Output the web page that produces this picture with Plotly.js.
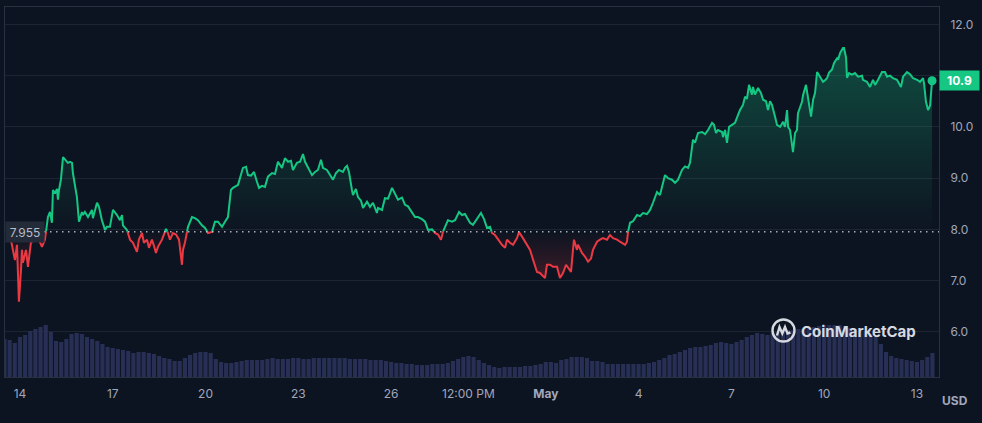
<!DOCTYPE html>
<html>
<head>
<meta charset="utf-8">
<script src="https://cdn.plot.ly/plotly-3.0.1.min.js"></script>
<style>html,body{margin:0;padding:0;background:#0d1421;}#chart{width:982px;height:423px;}</style>
</head>
<body>
<div id="chart"></div>
<script>
// ---- DATA ----
// price: hours after 2024-04-14 00:00 and price in USD
const hours = [-9.3,-7.8,-5.4,-3.9,-2.3,-0.8,0.8,1.6,2.3,3.9,4.7,6.2,8.5,10.9,13.2,15.5,17.1,19.4,20.2,21.7,23.3,24.8,25.6,27.2,28.7,29.5,30.3,31.8,33.4,34.9,37.2,38.8,40.4,41.1,42.7,44.2,45.8,48.1,48.9,50.4,52.8,55.9,56.6,58.2,59.8,61.3,63.6,66.0,67.5,69.8,72.2,75.3,77.6,79.2,79.9,83.0,85.4,
87.7,90.8,92.3,94.7,96.2,98.6,100.1,102.4,104.0,105.5,107.1,110.2,111.7,113.3,114.8,116.4,118.7,121.1,123.4,125.7,126.5,128.0,129.6,130.4,133.5,135.8,138.1,141.2,143.6,145.9,149.0,151.3,153.6,156.8,159.1,161.4,
163.7,165.3,169.2,173.0,175.4,176.9,179.3,181.6,183.9,185.5,187.8,190.1,192.4,195.6,197.9,200.2,203.3,205.6,208.0,210.3,211.8,214.9,217.3,219.6,221.2,223.5,226.6,228.9,231.2,233.6,235.1,238.2,240.6,242.9,245.2,247.5,250.6,252.2,253.8,255.3,
257.6,258.4,260.7,262.3,264.6,266.2,269.3,271.6,273.9,277.0,277.8,280.9,283.2,285.6,288.7,291.0,293.3,296.4,298.8,301.1,304.2,306.5,308.8,311.9,314.3,316.6,319.7,322.0,324.4,326.7,328.2,329.8,332.1,335.2,337.6,340.7,343.0,345.3,346.9,349.2,351.5,354.6,357.7,360.1,362.4,364.7,366.3,368.6,370.9,374.0,376.4,377.9,380.2,382.6,385.7,387.2,390.3,393.4,395.8,398.1,399.6,401.2,403.5,405.8,407.4,408.9,411.3,413.6,416.7,419.0,421.4,423.7,425.2,427.6,429.1,429.9,432.2,433.0,436.1,438.4,440.8,443.1,444.6,447.8,450.1,452.4,455.5,457.8,460.2,463.3,465.6,467.9,469.5,471.0,471.8,473.4,475.7,478.8,481.1,483.4,486.5,488.9,491.2,494.3,496.6,499.0,500.5,502.8,505.9,508.3,510.6,513.7,516.0,518.4,519.9,
522.2,523.8,526.1,529.2,531.6,533.9,537.0,538.5,540.1,541.6,544.8,545.5,547.1,548.6,550.2,552.5,554.8,557.1,558.7,561.0,562.6,564.1,565.7,568.0,568.8,570.3,572.7,575.0,576.6,578.9,580.4,582.0,583.5,585.9,587.4,589.8,592.1,593.6,595.2,596.0,597.5,599.8,601.4,602.9,603.7,606.8,607.6,609.9,611.5,613.8,615.4,616.9,618.5,620.8,623.1,624.7,626.2,627.8,630.1,631.7,634.0,634.8,636.3,638.6,639.4,641.0,641.7,643.3,645.6,647.9,650.3,653.4,654.1,657.2,659.6,661.9,663.5,665.8,668.9,671.2,672.8,675.1,677.4,680.5,683.6,685.2,688.3,690.6,693.0,696.1,698.4,700.7,701.5,703.0,704.6,706.2,707.7];
const price = [8.10,7.9,7.6,7.4,7.7,6.59,7.2,7.6,7.35,7.55,7.6,7.27,7.74,7.8,7.9,7.75,7.66,7.8,7.95,8.24,8.34,8.13,8.77,8.7,8.79,8.58,8.77,8.97,9.41,9.36,9.3,9.32,9.3,9.1,8.85,8.63,8.15,8.34,8.28,8.34,8.24,8.38,8.22,8.4,8.52,8.44,8.18,7.99,8.05,8.05,8.38,8.28,8.18,8.28,8.08,7.99,7.8,
7.74,7.56,7.8,7.93,7.74,7.8,7.64,7.8,7.68,7.54,7.66,7.8,7.9,8.01,7.93,7.8,7.93,7.9,7.8,7.31,7.6,7.74,7.95,8.05,8.24,8.22,8.18,8.08,8.03,7.93,7.95,8.15,8.15,8.05,8.15,8.24,
8.77,8.81,8.87,9.2,9.22,9.06,9.05,9.12,8.93,8.81,8.85,8.83,9.03,9.1,9.08,9.32,9.2,9.39,9.32,9.34,9.16,9.3,9.32,9.47,9.32,9.2,9.06,9.12,9.16,9.36,9.2,9.16,9.06,8.97,9.1,9.16,9.12,9.2,9.24,9.12,
8.77,8.67,8.79,8.63,8.56,8.42,8.54,8.44,8.52,8.32,8.42,8.38,8.61,8.6,8.81,8.68,8.58,8.62,8.48,8.45,8.34,8.24,8.24,8.2,8.15,7.99,8.0,7.93,7.9,7.8,7.95,8.05,8.18,8.15,8.18,8.34,8.28,8.3,8.22,8.13,8.09,8.2,8.32,8.2,8.03,8.05,7.93,7.89,7.8,7.7,7.64,7.8,7.74,7.7,7.83,7.95,7.83,7.7,7.6,7.41,7.31,7.17,7.15,7.09,7.05,7.31,7.31,7.27,7.27,7.05,7.15,7.31,7.25,7.17,7.6,7.8,7.6,7.7,7.54,7.47,7.37,7.43,7.6,7.76,7.8,7.83,7.8,7.89,7.83,7.8,7.76,7.73,7.7,7.76,7.95,8.13,8.16,8.28,8.26,8.32,8.3,8.38,8.52,8.73,8.67,8.91,9.06,9.0,8.97,8.91,8.97,9.16,9.23,9.2,9.3,
9.75,9.69,9.88,9.9,9.86,9.94,10.08,10.04,9.88,9.94,9.9,9.8,9.94,9.69,10.0,10.04,10.08,10.23,10.33,10.43,10.59,10.55,10.82,10.63,10.78,10.63,10.76,10.66,10.53,10.5,10.33,10.5,10.43,10.2,10.04,10.0,10.1,10.0,10.33,10.0,9.94,9.51,9.88,9.94,10.27,10.49,10.62,10.82,10.59,10.2,10.53,10.66,11.07,10.98,10.88,10.91,10.95,11.06,11.12,11.25,11.34,11.31,11.44,11.54,11.54,11.35,10.96,11.05,11.02,11.05,10.98,11.0,10.92,10.88,10.78,10.92,10.82,10.92,11.07,11.07,10.98,11.0,10.95,10.92,10.78,10.98,11.07,11.03,10.95,10.92,10.88,10.95,10.85,10.49,10.33,10.42,10.9];
// volume: 4-hour bars starting 2024-04-13 12:00 (relative units)
const volume = [38,37,34,40,42,46,48,50,52,45,36,35,38,43,44,43,40,38,36,33,30,29,28,27,26,24,25,25,24,23,21,19,18,16,16,19,22,24,25,25,24,18,15,14,14,15,16,17,17,17,17,18,19,18,18,18,19,19,18,18,19,19,19,19,19,19,19,18,18,18,18,17,17,17,16,15,14,14,13,13,12,12,12,13,13,13,14,16,18,20,21,20,17,14,12,10,9,10,10,10,10,11,11,12,13,15,15,14,17,18,20,20,20,19,16,16,15,13,13,13,13,13,13,13,13,14,15,17,19,22,23,25,27,29,30,30,31,32,34,35,34,33,35,37,40,42,44,43,42,44,45,46,47,47,48,48,49,50,51,52,52,52,52,51,49,48,46,45,43,40,33,25,21,19,18,17,16,15,17,20,24];
const baseline = 7.955;
const lastPrice = 10.9;
const tickDates = ['2024-04-14','2024-04-17','2024-04-20','2024-04-23','2024-04-26','2024-04-28 12:00','2024-05-01','2024-05-04','2024-05-07','2024-05-10','2024-05-13'];
const tickLabels = ['14','17','20','23','26','12:00 PM','<b>May</b>','4','7','10','13'];
const yTicks = [6,7,8,9,10,11,12];
const yTickLabels = ['6.0','7.0','8.0','9.0','10.0','','12.0']; // 11.0 hidden behind the price tag

// ---- BUILD ----
const T0 = Date.UTC(2024,3,14);
const H = 3600000;
const VOL_T0 = Date.UTC(2024,3,13,12);
const VOL_STEP = 4*H;

// ordered points with baseline crossings inserted
const pts = [];
for (let i = 0; i < price.length; i++) {
  const t = T0 + hours[i]*H, v = price[i];
  if (i > 0) {
    const pv = price[i-1], pt = T0 + hours[i-1]*H;
    if ((pv - baseline)*(v - baseline) < 0) {
      const f = (baseline - pv)/(v - pv);
      pts.push([pt + f*(t-pt), baseline]);
    }
  }
  pts.push([t, v]);
}
const px = pts.map(p=>p[0]);
const gLine = pts.map(p=> p[1] >= baseline ? p[1] : null);
const rLine = pts.map(p=> p[1] <= baseline ? p[1] : null);
const gFill = pts.map(p=> Math.max(p[1], baseline));
const rFill = pts.map(p=> Math.min(p[1], baseline));
const baseArr = pts.map(()=>baseline);

const GREEN = '#16c784', RED = '#ea3943';

const traces = [
  {x: volume.map((_,i)=>VOL_T0 + i*VOL_STEP), y: volume, type:'bar', yaxis:'y2',
   marker:{color:'#272f55', line:{width:0}}, hoverinfo:'skip'},
  {x: px, y: baseArr, mode:'lines', line:{width:0, color:'rgba(0,0,0,0)'}, hoverinfo:'skip'},
  {x: px, y: gFill, mode:'lines', line:{width:0, color:'rgba(0,0,0,0)'}, fill:'tonexty',
   fillgradient:{type:'vertical', start: baseline, stop: 11.6,
     colorscale:[[0,'rgba(22,199,132,0.0)'],[1,'rgba(22,199,132,0.32)']]}, hoverinfo:'skip'},
  {x: px, y: baseArr, mode:'lines', line:{width:0, color:'rgba(0,0,0,0)'}, hoverinfo:'skip'},
  {x: px, y: rFill, mode:'lines', line:{width:0, color:'rgba(0,0,0,0)'}, fill:'tonexty',
   fillgradient:{type:'vertical', start: baseline, stop: 7.0,
     colorscale:[[0,'rgba(234,57,67,0.0)'],[1,'rgba(234,57,67,0.22)']]}, hoverinfo:'skip'},
  {x: px, y: gLine, mode:'lines', line:{color:GREEN, width:2}, connectgaps:false},
  {x: px, y: rLine, mode:'lines', line:{color:RED, width:2}, connectgaps:false},
  {x: [T0 + hours[hours.length-1]*H], y:[price[price.length-1]], mode:'markers',
   marker:{color:GREEN, size:9}}
];

const AXC = '#a1a7bb';
const layout = {
  width: 982, height: 423,
  margin: {l:5, r:43, t:7, b:46},
  paper_bgcolor:'#0d1421', plot_bgcolor:'#0d1421',
  showlegend:false, bargap:0.2,
  font:{family:'Inter, "Noto Sans", sans-serif', color:AXC, size:12},
  xaxis:{type:'date', range:[T0 - 11.6*H, T0 + 713.1*H],
    tickvals: tickDates, ticktext: tickLabels, ticks:'', showgrid:false, zeroline:false,
    showline:true, mirror:true, linecolor:'#283142', linewidth:1,
    tickfont:{size:12, color:AXC}, ticklabelstandoff:6},
  yaxis:{side:'right', range:[5.12, 12.34], tickvals:yTicks, ticktext:yTickLabels, ticks:'',
    showgrid:true, gridcolor:'#1d2533', zeroline:false,
    showline:true, mirror:true, linecolor:'#283142', linewidth:1,
    tickfont:{size:12, color:AXC}, ticklabelstandoff:8},
  yaxis2:{overlaying:'y', range:[0,370], visible:false, fixedrange:true},
  shapes:[
    {type:'line', xref:'paper', x0:(44-5)/934, x1:1, yref:'y', y0:baseline, y1:baseline,
     line:{color:'rgba(220,224,232,0.75)', width:1.5, dash:'1.5px,4.5px'}},
    {type:'circle', xref:'paper', xsizemode:'pixel', xanchor:(783.5-5)/934, x0:-11, x1:11,
     yref:'paper', ysizemode:'pixel', yanchor:(377-330.5)/370, y0:-11, y1:11,
     line:{color:'#d6d9e0', width:2.4}},
    {type:'path', xref:'paper', xsizemode:'pixel', xanchor:(783.5-5)/934,
     yref:'paper', ysizemode:'pixel', yanchor:(377-330.5)/370,
     path:'M -6.5 -5 L -4 3.5 L -1.2 -3 L 1.5 3.5 L 4 -3 L 7 -2',
     line:{color:'#d6d9e0', width:2.4}}
  ],
  annotations:[
    {xref:'paper', x:0, xanchor:'left', yref:'y', y:baseline, yanchor:'middle',
     text:'7.955', showarrow:false, bgcolor:'#232a38', width:38, height:20, borderpad:0,
     font:{size:12, color:'#b9bec9'}},
    {xref:'paper', x:1, xanchor:'left', yref:'y', y:lastPrice, yanchor:'middle',
     text:'<b>10.9</b>', showarrow:false, bgcolor:GREEN, width:39, height:19, borderpad:0,
     font:{size:12, color:'#ffffff'}},
    {xref:'paper', x:(955-5)/934, xanchor:'center', yref:'paper', y:(377-400)/370, yanchor:'middle',
     text:'<b>USD</b>', showarrow:false, font:{size:12, color:AXC}},
    {xref:'paper', x:(799-5)/934, xanchor:'left', yref:'paper', y:(377-331)/370, yanchor:'middle',
     text:'<b>CoinMarketCap</b>', showarrow:false, font:{size:15, color:'#d6d9e0'}}
  ]
};

Plotly.newPlot('chart', traces, layout, {displayModeBar:false, staticPlot:true});
</script>
</body>
</html>
